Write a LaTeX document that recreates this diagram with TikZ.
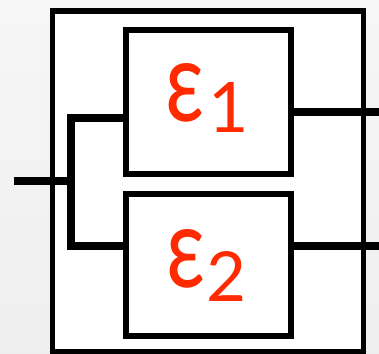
\documentclass[tikz,border=0pt]{standalone}
\usepackage{fontspec}
\setmainfont{Lato}
\definecolor{epsred}{HTML}{FF2A00}
\newcommand{\epsglyph}{\resizebox{39pt}{58pt}{\fontsize{100}{100}\selectfont ε}}
\newcommand{\subdigit}[1]{\resizebox{!}{50pt}{\fontsize{60}{60}\selectfont #1}}
\begin{document}
\begin{tikzpicture}[x=1pt,y=-1pt,
  frame/.style={draw=black, line width=5.5pt, fill=white, inner sep=0pt, outer sep=0pt},
  unit/.style={draw=black, line width=6pt, fill=white, inner sep=0pt, outer sep=0pt, minimum width=165pt},
  wire/.style={draw=black, line width=8pt, line join=miter},
  lbl/.style={text=epsred, inner sep=0pt, anchor=base}]
\useasboundingbox (0,0) rectangle (379,353);
\shade[top color=gray!7, bottom color=gray!13] (0,0) rectangle (379,353);
\node[frame, minimum width=311pt, minimum height=341pt, anchor=north west] (outer) at (52.5,11) {};
\node[unit, minimum height=143.5pt] (box1) at (208,102.25) {};
\node[unit, minimum height=142pt] (box2) at (208,265) {};
\node[lbl] (e1) at (207,121) {\epsglyph\kern4pt\raisebox{-11pt}{\subdigit{1}}};
\node[lbl] (e2) at (207,287) {\epsglyph\kern1pt\raisebox{-14pt}{\subdigit{2}}};
\coordinate (in) at (14,180.5);
\coordinate (j) at (71,180.5);
\coordinate (t1) at (71,118);
\coordinate (b1) at (71,246);
\coordinate (o1) at (386,111.5);
\coordinate (o2) at (386,245.5);
\draw[wire] (in) -- (j);
\draw[wire] (box1.west |- t1) -- (t1) -- (b1) -- (box2.west |- b1);
\draw[wire] (box1.east |- o1) -- (o1);
\draw[wire] (box2.east |- o2) -- (o2);
\end{tikzpicture}
\end{document}
